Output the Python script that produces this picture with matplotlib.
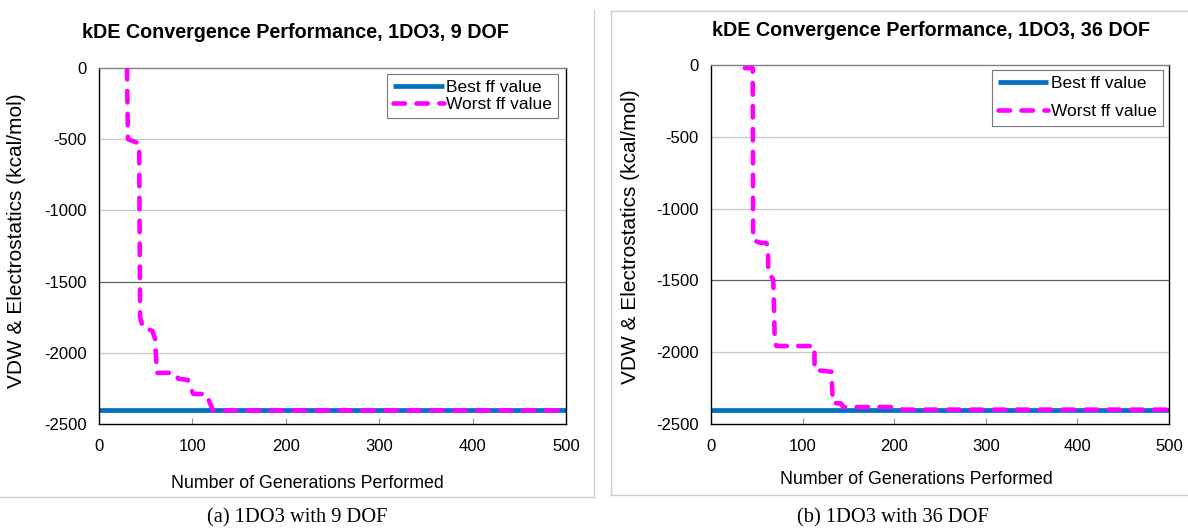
import matplotlib
matplotlib.use('Agg')
import matplotlib.pyplot as plt
from matplotlib.lines import Line2D

plt.rcParams['font.family'] = ['Liberation Sans', 'DejaVu Sans']
plt.rcParams['axes.unicode_minus'] = False

SERIF = ['Liberation Serif', 'DejaVu Serif']

# ---- data ----
gen_lim = (0, 500)
y_lim = (-2500, 0)
x_ticks = [0, 100, 200, 300, 400, 500]
y_ticks = [0, -500, -1000, -1500, -2000, -2500]

# (a) 9 DOF
best_a = -2405
worst_gen_a = [30, 31, 43, 44, 47, 57, 60, 62, 81, 85, 95, 97, 101, 115, 122, 500]
worst_val_a = [0, -500, -530, -1750, -1824, -1845, -1900, -2141, -2141, -2183, -2190,
               -2232, -2289, -2289, -2405, -2405]

# (b) 36 DOF
best_b = -2400
worst_gen_b = [37, 45.5, 46, 53, 60.6, 62.4, 62.4, 66, 68, 69.7, 71.5, 113, 113, 131.5,
               133, 142, 144, 200, 210, 500]
worst_val_b = [-21, -21, -1219, -1237, -1240, -1288, -1449, -1474, -1497, -1936, -1957,
               -1957, -2124, -2136, -2354, -2357, -2382, -2382, -2400, -2400]

titles = ['kDE Convergence Performance, 1DO3, 9 DOF',
          'kDE Convergence Performance, 1DO3, 36 DOF']
captions = ['(a) 1DO3 with 9 DOF', '(b) 1DO3 with 36 DOF']
ylabel = 'VDW & Electrostatics (kcal/mol)'
xlabel = 'Number of Generations Performed'

BLUE = '#0070C0'
MAG = '#FF00FF'

fig = plt.figure(figsize=(11.88, 5.29), dpi=100)
W, H = 1188, 529


def fx(px): return px / W


def fy(py): return 1 - py / H


# panel frames (light grey chart-area borders)
grey = '#cfcfcf'
fig.add_artist(Line2D([fx(0), fx(594)], [fy(497), fy(497)], color=grey, lw=1))
fig.add_artist(Line2D([fx(594), fx(594)], [fy(10), fy(497)], color=grey, lw=1))
fig.add_artist(Line2D([fx(611), fx(1188)], [fy(11), fy(11)], color=grey, lw=1))
fig.add_artist(Line2D([fx(611), fx(611)], [fy(11), fy(495)], color=grey, lw=1))
fig.add_artist(Line2D([fx(611), fx(1188)], [fy(495), fy(495)], color=grey, lw=1))

boxes = [(99, 566, 68, 424), (711, 1169, 65, 424)]
data = [(best_a, worst_gen_a, worst_val_a), (best_b, worst_gen_b, worst_val_b)]
title_pos = [(295, 33), (931, 30)]
xlab_pos = [(307, 483), (916, 480)]
ylab_pos = [(17, 241), (630, 237)]
cap_x = [297, 893]
leg_anchor = [(0.983, 0.983), (0.987, 0.986)]
leg_space = [0.1, 0.75]

for i in range(2):
    l, r, t, b = boxes[i]
    ax = fig.add_axes([fx(l), fy(b), fx(r) - fx(l), fy(t) - fy(b)])
    best, wg, wv = data[i]

    for yv in [-500, -1000, -2000]:
        ax.axhline(yv, color='#c8c8c8', lw=0.9, zorder=0)
    ax.axhline(-1500, color='#606060', lw=0.9, zorder=0)

    ax.plot(gen_lim, [best, best], color=BLUE, lw=3.4, solid_capstyle='butt',
            label='Best ff value', zorder=2)
    ax.plot(wg, wv, color=MAG, lw=3.3, dashes=(2.5, 2.5), dash_capstyle='round',
            label='Worst ff value', zorder=3)

    ax.set_xlim(*gen_lim)
    ax.set_ylim(*y_lim)
    ax.set_xticks(x_ticks)
    ax.set_yticks(y_ticks)
    ax.tick_params(axis='x', direction='in', length=4, color='#909090', pad=11,
                   labelsize=12)
    ax.tick_params(axis='y', length=0, pad=9, labelsize=12)
    for s in ['left', 'bottom', 'right']:
        ax.spines[s].set_color('black')
        ax.spines[s].set_linewidth(1.0)
    ax.spines['top'].set_color('#808080')
    ax.spines['top'].set_linewidth(1.0)

    leg = ax.legend(loc='upper right', bbox_to_anchor=leg_anchor[i], fontsize=12.5,
                    frameon=True, fancybox=False, edgecolor='#555555', handlelength=2.9,
                    borderpad=0.35, labelspacing=leg_space[i], handletextpad=0.15,
                    borderaxespad=0)
    leg.get_frame().set_linewidth(0.8)

    fig.text(fx(title_pos[i][0]), fy(title_pos[i][1]), titles[i], ha='center',
             va='center', fontsize=14.2, fontweight='bold')
    fig.text(fx(ylab_pos[i][0]), fy(ylab_pos[i][1]), ylabel, rotation=90, ha='center',
             va='center', fontsize=15)
    fig.text(fx(xlab_pos[i][0]), fy(xlab_pos[i][1]), xlabel, ha='center', va='center',
             fontsize=12.8)
    fig.text(fx(cap_x[i]), fy(518), captions[i], ha='center', va='center', fontsize=14.7,
             family=SERIF)

fig.savefig('out.png', dpi=100)
